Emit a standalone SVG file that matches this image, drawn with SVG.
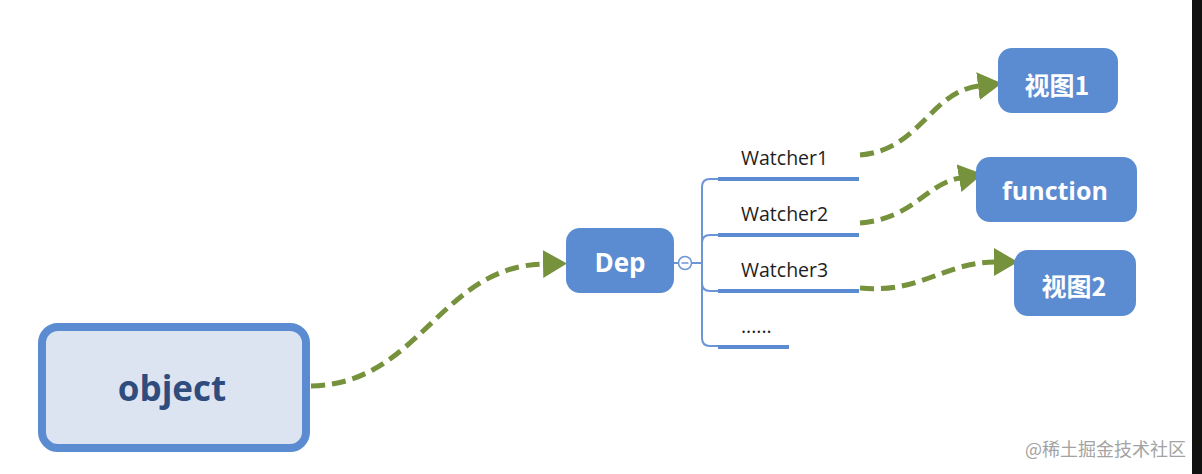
<svg xmlns="http://www.w3.org/2000/svg" width="1202" height="474" viewBox="0 0 1202 474">
<style>
.box{fill:#5b8bd0;}
.lbl{font-family:"Open Sans","Noto Sans CJK SC",sans-serif;font-weight:bold;fill:#ffffff;text-anchor:middle;}
.cjk{font-family:"Noto Sans CJK SC","Open Sans",sans-serif;font-weight:bold;fill:#ffffff;text-anchor:middle;}
.wt{font-family:"Open Sans","Liberation Sans",sans-serif;font-size:19.5px;fill:#1e1e1e;}
.flow{fill:none;stroke:#76923c;stroke-width:5;stroke-dasharray:14 7;marker-end:url(#ah);}
.ul{stroke:#5b8bd0;stroke-width:4;fill:none;}
.br{stroke:#6b95d4;stroke-width:2;fill:none;}
</style>
<defs>
<marker id="ah" viewBox="0 0 24 28" refX="1" refY="14" markerWidth="24" markerHeight="28" markerUnits="userSpaceOnUse" orient="auto">
<path d="M0,0 L24,14 L0,28 Z" fill="#76923c"/>
</marker>
</defs>
<rect width="1202" height="474" fill="#ffffff"/>
<rect x="1192" y="0" width="10" height="474" fill="#111111"/>

<g id="connectors">
<path class="flow" d="M311,386 C 420,384 440,266 544,264"/>
<path class="flow" d="M860,155 C 920,150 930,92 979,86"/>
<path class="flow" d="M860,223 C 915,218 925,184 960,178"/>
<path class="flow" d="M860,288 C 920,294 945,262 995,262"/>
</g>

<g id="object">
<rect x="42" y="327" width="264" height="121" rx="16" fill="#dde4f1" stroke="#5b8bd0" stroke-width="8"/>
<text x="172" y="401" font-family="'Open Sans','Noto Sans',sans-serif" font-weight="bold" font-size="35" fill="#2f4c7e" text-anchor="middle">object</text>
</g>

<g id="dep">
<rect class="box" x="566" y="228" width="108" height="65" rx="14"/>
<text class="lbl" x="620" y="272" font-size="26">Dep</text>
</g>

<g id="watchers">
<line x1="674" y1="263" x2="702" y2="263" class="br"/>
<circle cx="685" cy="263" r="6.5" fill="#ffffff" stroke="#6b95d4" stroke-width="1.5"/>
<line x1="681.5" y1="263" x2="688.5" y2="263" stroke="#6b95d4" stroke-width="1.5"/>
<path class="br" d="M718,179 L710,179 Q702,179 702,187 L702,338 Q702,346 710,346 L718,346"/>
<path class="br" d="M702,243 Q702,235 710,235 L718,235"/>
<path class="br" d="M702,283 Q702,291 710,291 L718,291"/>
<line class="ul" x1="718" y1="179" x2="859" y2="179"/>
<line class="ul" x1="718" y1="235" x2="859" y2="235"/>
<line class="ul" x1="718" y1="291" x2="859" y2="291"/>
<line class="ul" x1="718" y1="347" x2="789" y2="347"/>
<text class="wt" x="741" y="165">Watcher1</text>
<text class="wt" x="741" y="221">Watcher2</text>
<text class="wt" x="741" y="277">Watcher3</text>
<text class="wt" x="741" y="333" font-size="14">......</text>
</g>

<g id="view1">
<rect class="box" x="998" y="48" width="120" height="65" rx="14"/>
<text class="cjk" x="1057" y="95" font-size="25">视图1</text>
</g>

<g id="function">
<rect class="box" x="976" y="157" width="161" height="65" rx="14"/>
<text class="lbl" x="1055" y="200" font-size="25">function</text>
</g>

<g id="view2">
<rect class="box" x="1014" y="250" width="122" height="66" rx="14"/>
<text class="cjk" x="1074" y="296" font-size="25">视图2</text>
</g>

<text x="1025" y="456" font-family="'Noto Sans CJK SC','Noto Sans',sans-serif" font-size="18" fill="#a3a3a3">@稀土掘金技术社区</text>
</svg>
